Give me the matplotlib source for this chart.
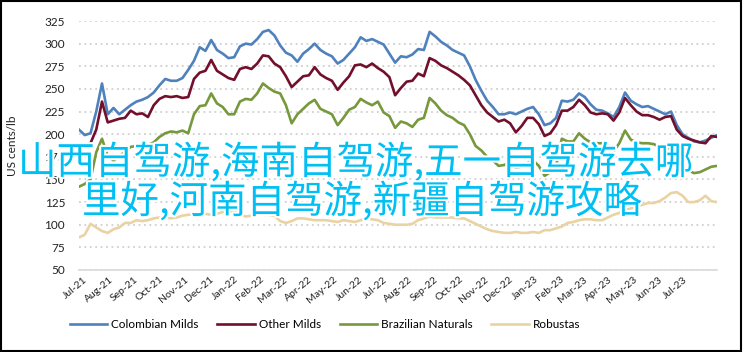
import numpy as np
import pandas as pd
import matplotlib
matplotlib.use('Agg')
import matplotlib.pyplot as plt
import matplotlib.dates as mdates
import matplotlib.patheffects as pe
from matplotlib.patches import Rectangle

# weekly composite indicator prices, US cents/lb
dates = pd.date_range('2021-06-22', periods=112, freq='7D')
month_ticks = pd.date_range('2021-07-01', '2023-07-01', freq='MS')

colombian = [205, 199, 201, 225, 256, 222, 229, 222, 227, 232, 236, 238, 241, 246, 254, 261,
             259, 259, 262, 271, 281, 296, 292, 304, 293, 289, 284, 285, 297, 300, 299, 305,
             313, 315, 309, 298, 290, 287, 280, 289, 294, 300, 293, 289, 286, 278, 282, 289,
             296, 307, 303, 305, 302, 299, 289, 279, 286, 285, 288, 294, 293, 313, 308, 302,
             298, 293, 290, 287, 275, 260, 248, 237, 230, 222, 222, 224, 222, 225, 228, 230,
             222, 210, 212, 218, 237, 236, 238, 245, 241, 233, 227, 226, 223, 219, 230, 246,
             237, 233, 230, 231, 228, 225, 222, 225, 210, 200, 196, 192, 191, 193, 196, 199]

other_milds = [186, 188, 190, 205, 236, 213, 215, 217, 218, 226, 222, 223, 219, 232, 239, 242,
               241, 242, 240, 241, 261, 268, 270, 282, 270, 266, 262, 260, 272, 274, 272, 278,
               287, 286, 278, 274, 264, 252, 258, 264, 265, 274, 266, 262, 259, 249, 257, 264,
               276, 277, 274, 278, 273, 269, 263, 243, 251, 258, 259, 267, 264, 284, 281, 276,
               273, 269, 265, 260, 254, 243, 232, 224, 219, 214, 216, 212, 202, 209, 218, 218,
               211, 198, 201, 210, 226, 226, 230, 238, 232, 224, 222, 223, 222, 215, 224, 240,
               232, 225, 221, 221, 219, 216, 219, 220, 205, 198, 195, 193, 191, 190, 198, 197]

brazilian = [142, 145, 150, 180, 195, 176, 171, 175, 181, 186, 187, 187, 188, 191, 197, 201,
             203, 202, 204, 201, 222, 231, 232, 245, 234, 230, 222, 222, 236, 239, 238, 245,
             256, 251, 247, 245, 232, 212, 222, 228, 234, 238, 228, 225, 222, 210, 218, 227,
             230, 239, 235, 232, 236, 224, 220, 207, 214, 212, 208, 216, 218, 240, 234, 226,
             221, 218, 213, 210, 200, 187, 182, 175, 171, 165, 166, 169, 163, 164, 168, 171,
             165, 154, 158, 165, 195, 192, 192, 201, 195, 191, 190, 190, 188, 181, 190, 204,
             194, 191, 190, 190, 189, 186, 185, 184, 174, 163, 160, 157, 158, 161, 164, 165]

robustas = [86, 89, 101, 97, 93, 91, 95, 97, 102, 102, 105, 104, 105, 107, 108, 108,
            107, 108, 110, 111, 112, 112, 112, 111, 112, 114, 114, 114, 112, 109, 110, 112,
            111, 111, 110, 104, 102, 104, 107, 107, 106, 105, 105, 105, 104, 103, 105, 104,
            103, 105, 107, 106, 105, 102, 101, 100, 100, 100, 101, 105, 107, 109, 108, 108,
            108, 108, 107, 107, 104, 101, 98, 95, 93, 92, 91, 91, 92, 91, 91, 92,
            91, 94, 94, 96, 98, 102, 103, 105, 106, 106, 105, 105, 108, 111, 113, 116,
            118, 120, 122, 124, 124, 126, 130, 135, 136, 132, 125, 125, 127, 132, 126, 125]

series = [('Colombian Milds', colombian, '#4f81bd'),
          ('Other Milds', other_milds, '#720f2b'),
          ('Brazilian Naturals', brazilian, '#77983c'),
          ('Robustas', robustas, '#ead3a3')]

overlay = ['山西自驾游,海南自驾游,五一自驾游去哪', '里好,河南自驾游,新疆自驾游攻略']

plt.rcParams['font.family'] = ['Lato', 'DejaVu Sans']

fig = plt.figure(figsize=(7.43, 3.52), dpi=100)
ax = fig.add_axes([79 / 743, 82 / 352, 638 / 743, 249 / 352])

for name, vals, col in series:
    ax.plot(dates, vals, color=col, linewidth=1.9, label=name, solid_joinstyle='round')

ax.set_xlim(dates[0], dates[-1])
ax.set_ylim(50, 325)
ax.set_yticks(np.arange(50, 326, 25))
ax.yaxis.grid(True, color='#d0d0d0', linestyle=(0, (1, 2)), linewidth=1.3)
ax.set_axisbelow(True)
for s in ['top', 'right', 'left']:
    ax.spines[s].set_visible(False)
ax.spines['bottom'].set_color('#d9d9d9')
ax.spines['bottom'].set_linewidth(1.2)

ax.set_xticks(month_ticks)
ax.xaxis.set_major_formatter(mdates.DateFormatter('%b-%y'))
ax.tick_params(axis='both', length=0, colors='#222222')
ax.tick_params(axis='y', labelsize=8.5, pad=10)
ax.tick_params(axis='x', labelsize=7.5, pad=6)
for lab in ax.get_xticklabels():
    lab.set_rotation(40)
    lab.set_ha('right')
    lab.set_va('center')
    lab.set_rotation_mode('anchor')
ax.set_ylabel('US cents/lb', fontsize=8.5, color='#222222')
ax.yaxis.set_label_coords(-0.095, 0.5)

fig.legend(loc='center', bbox_to_anchor=(325 / 743, 1 - 325 / 352), ncol=4,
           frameon=False, fontsize=8.5, handlelength=3.2, columnspacing=1.6,
           handletextpad=0.3)

fig.patches.append(Rectangle((0.001, 0.002), 0.996, 0.995, transform=fig.transFigure,
                             fill=False, edgecolor='black', linewidth=1.5))

stroke = [pe.withStroke(linewidth=3, foreground='white')]
cjk = ['Noto Sans CJK SC', 'DejaVu Sans']
fig.text(18 / 743, 1 - 163 / 352, overlay[0], ha='left', va='center', fontsize=27.7,
         color='#00bff3', family=cjk, path_effects=stroke)
fig.text(82 / 743, 1 - 202 / 352, overlay[1], ha='left', va='center', fontsize=27.7,
         color='#00bff3', family=cjk, path_effects=stroke)

fig.savefig('out.png', dpi=100)
